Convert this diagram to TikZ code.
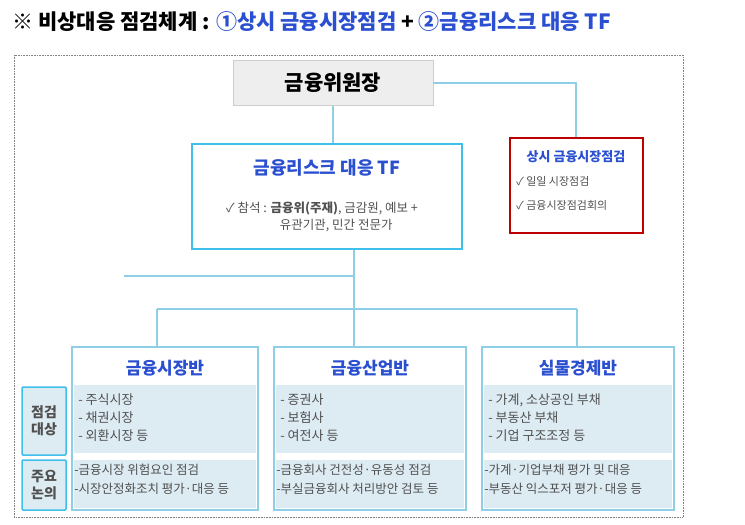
\documentclass[tikz,border=0pt]{standalone}
\usepackage{fontspec}
\setmainfont{Noto Sans CJK KR}
\usetikzlibrary{positioning}
\definecolor{tfblue}{HTML}{2A4FD0}
\definecolor{linecyan}{HTML}{8FCFE6}
\definecolor{boxcyan}{HTML}{3FC0EA}
\definecolor{paleblue}{HTML}{DDEBF3}
\definecolor{headgray}{HTML}{EEEEEE}
\definecolor{txtgray}{HTML}{505050}
\begin{document}
\begin{tikzpicture}[x=1pt,y=-1pt,semithick]
  \tikzstyle{conn}=[draw=linecyan,line width=1.2pt]
  \tikzstyle{teambox}=[draw=linecyan,line width=1.2pt,fill=white]
  \tikzstyle{teamhead}=[text=tfblue,font=\bfseries\fontsize{17}{20}\selectfont]
  \tikzstyle{item}=[text=txtgray,font=\fontsize{13}{18}\selectfont,align=left,anchor=north west,inner sep=2pt]
  \tikzstyle{sidebox}=[draw=boxcyan,line width=1.5pt,fill=paleblue,rounded corners=1pt,
    font=\bfseries\fontsize{14}{17}\selectfont,text=txtgray,align=center,inner sep=1pt]

  \useasboundingbox (0,0) rectangle (745,525);

  % title
  \node[anchor=west,font=\bfseries\fontsize{21}{24}\selectfont,inner sep=0pt] (title) at (12,22)
    {※ 비상대응 점검체계 : \textcolor{tfblue}{①상시 금융시장점검} + \textcolor{tfblue}{②금융리스크 대응 TF}};
  \draw[densely dotted,gray] (14,55) rectangle (683,517);

  % top boxes
  \node[draw=headgray!70!gray,fill=headgray,minimum width=200,minimum height=45,
    font=\bfseries\fontsize{21}{24}\selectfont] (chair) at (333,83) {금융위원장};
  \node[draw=boxcyan,line width=2pt,minimum width=270,minimum height=105] (tf) at (327,196) {};
  \node[teamhead,font=\bfseries\fontsize{18}{20}\selectfont] (tftitle) at (327,168) {금융리스크 대응 TF};
  \node[text=txtgray,font=\fontsize{12.5}{17}\selectfont,align=left] (tfmem) at (322,217)
    {✓ 참석 : \textbf{금융위(주재)}, 금감원, 예보 +\\\hspace{4.3em}유관기관, 민간 전문가};
  \node[draw=red!75!black,line width=2pt,minimum width=133,minimum height=95] (daily) at (576,185) {};
  \node[text=tfblue,font=\bfseries\fontsize{13}{15}\selectfont] (dtitle) at (576,157) {상시 금융시장점검};
  \node[item,font=\fontsize{11}{24}\selectfont] (ditems) at (514,174) {✓ 일일 시장점검\\✓ 금융시장점검회의};

  % connectors
  \coordinate (hub) at (354,309);
  \coordinate (stub) at (124,276);
  \draw[conn] (chair.south) -- (chair.south |- tf.north);
  \draw[conn] (chair.east) -| (daily.north);
  \draw[conn] (tf.south -| hub) -- (hub);
  \draw[conn] (stub) -- (stub -| hub);

  % team boxes
  \foreach \n/\xa/\xb/\head/\targ/\disc in {
    mkt/72/258/금융시장반/{- 주식시장\\- 채권시장\\- 외환시장 등}/{-금융시장 위험요인 점검\\-시장안정화조치 평가·대응 등},
    ind/274/466/금융산업반/{- 증권사\\- 보험사\\- 여전사 등}/{-금융회사 건전성·유동성 점검\\-부실금융회사 처리방안 검토 등},
    eco/482/674/실물경제반/{- 가계, 소상공인 부채\\- 부동산 부채\\- 기업 구조조정 등}/{-가계·기업부채 평가 및 대응\\-부동산 익스포저 평가·대응 등}} {
    \draw[teambox] (\xa,347) rectangle (\xb,510);
    \fill[paleblue] (\xa+2,385) rectangle (\xb-2,453);
    \fill[paleblue] (\xa+2,460) rectangle (\xb-2,508);
    \node[teamhead] (\n) at ({(\xa+\xb)/2},368) {\head};
    \node[item] (\n t) at (\xa+4,391) {\targ};
    \node[item,font=\fontsize{12.5}{19}\selectfont] (\n d) at (\xa,462) {\disc};
  }
  \coordinate (dropL) at (157,347);
  \coordinate (dropR) at (577,347);
  \draw[conn] (dropL |- hub) -- (dropR |- hub);
  \draw[conn] (dropL |- hub) -- (dropL);
  \draw[conn] (hub) -- (hub |- dropL);
  \draw[conn] (dropR |- hub) -- (dropR);

  % side labels
  \node[sidebox,minimum width=44,minimum height=68] (target) at (44,421) {점검\\대상};
  \node[sidebox,minimum width=44,minimum height=50] (discuss) at (44,485) {주요\\논의};
\end{tikzpicture}
\end{document}
